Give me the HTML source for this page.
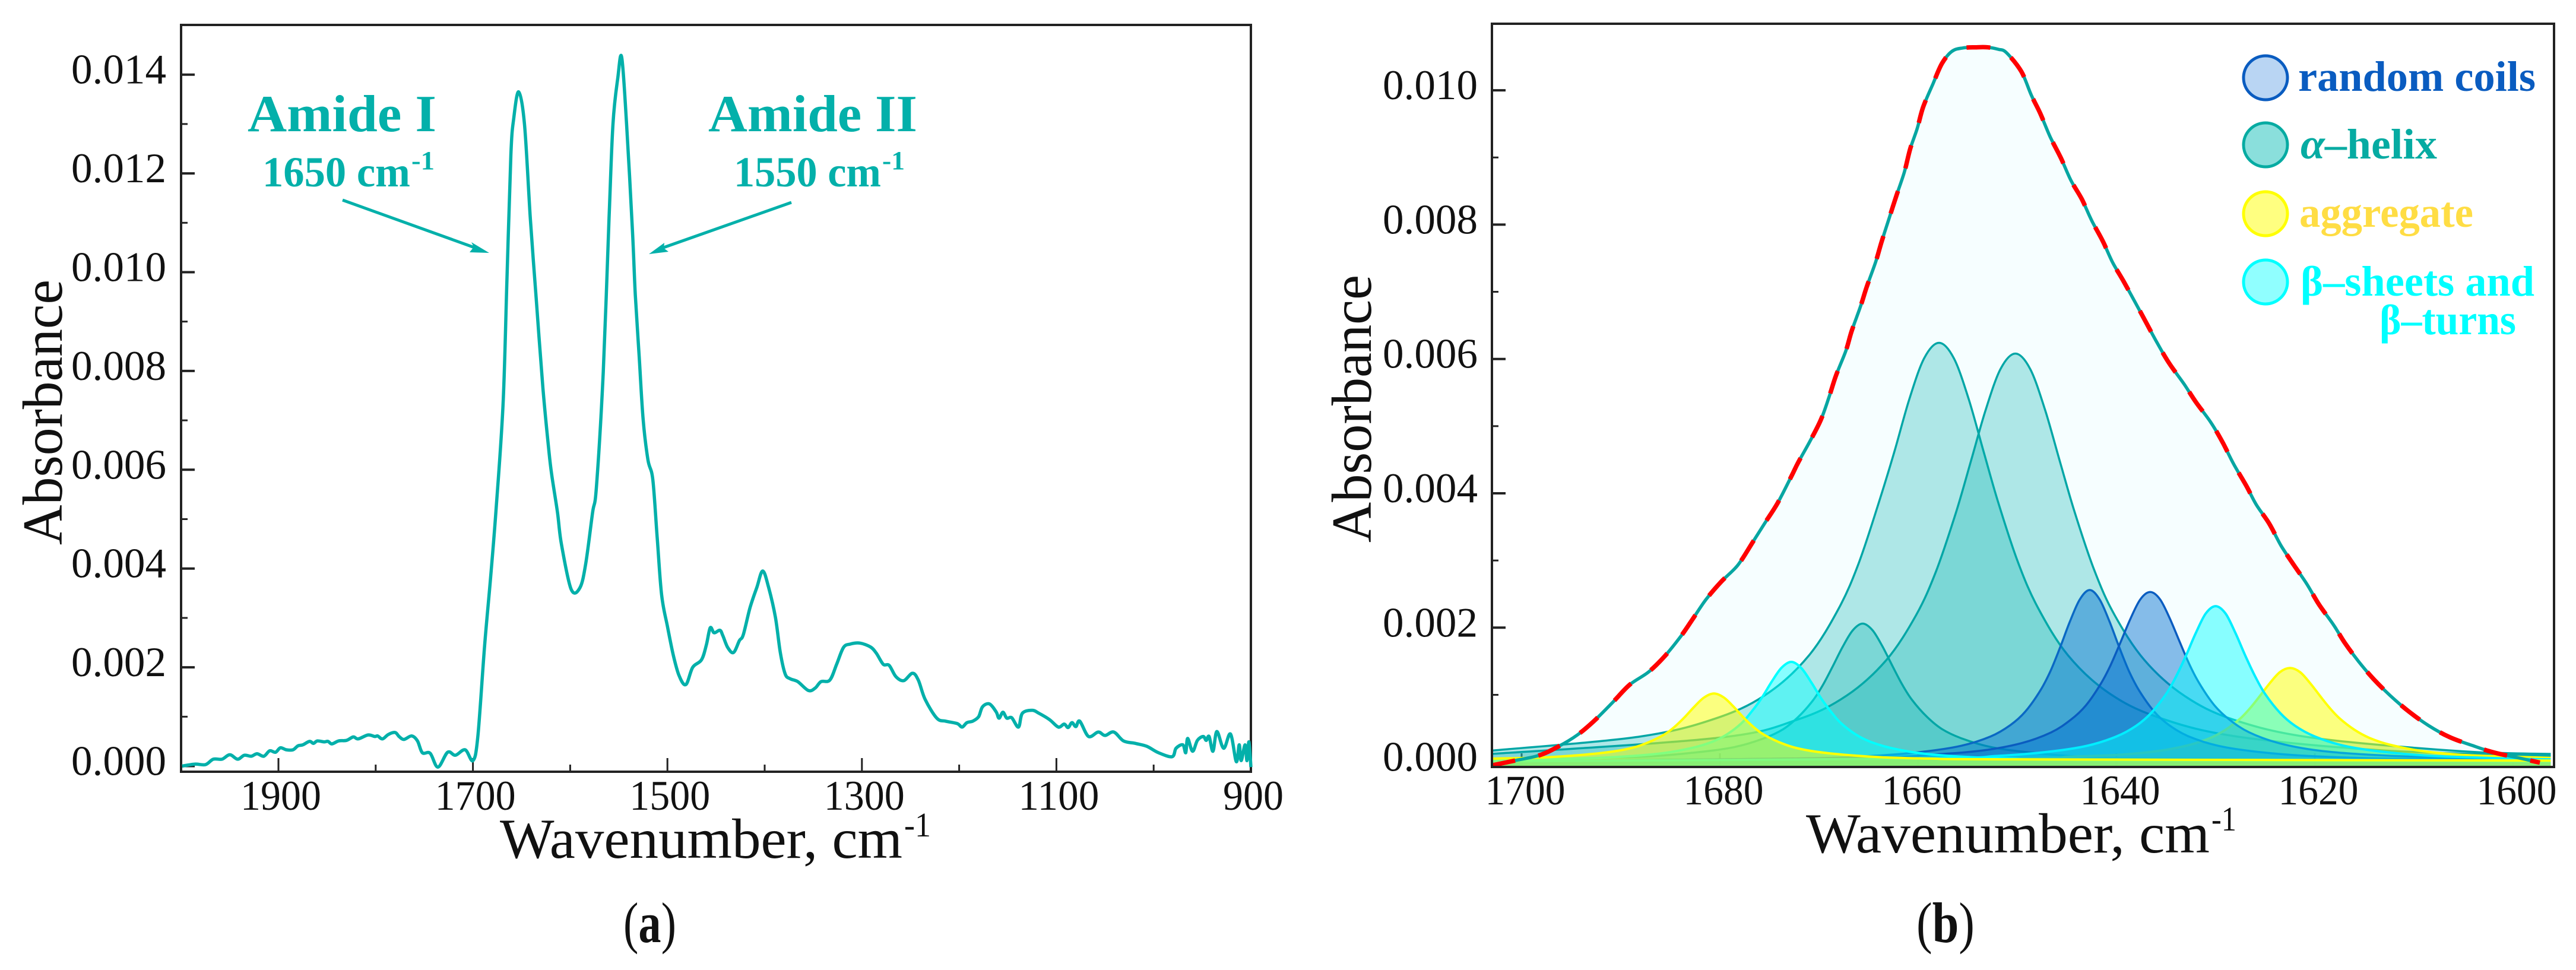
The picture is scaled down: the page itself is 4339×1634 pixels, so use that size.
<!DOCTYPE html>
<html lang="en">
<head>
<meta charset="utf-8">
<title>FTIR absorbance spectra</title>
<style>
html,body{margin:0;padding:0;background:#fff;}
svg{display:block;}
text{font-family:"Liberation Serif","DejaVu Serif",serif;fill:#111;}
.tick-label{font-size:71px;}
.axis-title{font-size:95px;}
.annot{fill:#03b0aa;font-weight:bold;}
.legend{font-size:72px;font-weight:bold;}
</style>
</head>
<body>
<svg id="figure" xmlns="http://www.w3.org/2000/svg" width="4339" height="1634" viewBox="0 0 4339 1634">
  <rect x="0" y="0" width="4339" height="1634" fill="#fff"/>
  <g id="panelA"></g>
  <g id="panelB"></g>

  <!-- Panel A text -->
  <text class="axis-title" transform="translate(104,918) rotate(-90)" textLength="447" lengthAdjust="spacingAndGlyphs">Absorbance</text>
  <text class="axis-title" x="842" y="1445" textLength="678" lengthAdjust="spacingAndGlyphs">Wavenumber, cm</text>
  <text style="font-size:58px" x="1523" y="1409" textLength="45" lengthAdjust="spacingAndGlyphs">-1</text>
  <text class="annot" style="font-size:88px" x="417" y="221" textLength="318" lengthAdjust="spacingAndGlyphs">Amide I</text>
  <text class="annot" style="font-size:72px" x="442" y="314" textLength="249" lengthAdjust="spacingAndGlyphs">1650 cm</text>
  <text class="annot" style="font-size:44px" x="693" y="285" textLength="39" lengthAdjust="spacingAndGlyphs">-1</text>
  <text class="annot" style="font-size:88px" x="1193" y="221" textLength="352" lengthAdjust="spacingAndGlyphs">Amide II</text>
  <text class="annot" style="font-size:72px" x="1236" y="314" textLength="248" lengthAdjust="spacingAndGlyphs">1550 cm</text>
  <text class="annot" style="font-size:44px" x="1486" y="285" textLength="38" lengthAdjust="spacingAndGlyphs">-1</text>
  <g>
    <line x1="577" y1="337" x2="802" y2="418" stroke="#03b0aa" stroke-width="5"/>
    <polygon points="824,426 791,425 798,416 794,408" fill="#03b0aa"/>
  </g>
  <g>
    <line x1="1333" y1="341" x2="1112" y2="419" stroke="#03b0aa" stroke-width="5"/>
    <polygon points="1093,428 1119,409 1118,418 1126,424" fill="#03b0aa"/>
  </g>
  <text style="font-size:96px" x="1050" y="1587" textLength="89" lengthAdjust="spacingAndGlyphs">(<tspan font-weight="bold">a</tspan>)</text>

  <!-- Panel B text -->
  <text class="axis-title" transform="translate(2309,914) rotate(-90)" textLength="451" lengthAdjust="spacingAndGlyphs">Absorbance</text>
  <text class="axis-title" x="3042" y="1436" textLength="680" lengthAdjust="spacingAndGlyphs">Wavenumber, cm</text>
  <text style="font-size:58px" x="3725" y="1399" textLength="42" lengthAdjust="spacingAndGlyphs">-1</text>
  <text style="font-size:96px" x="3228" y="1587" textLength="98" lengthAdjust="spacingAndGlyphs">(<tspan font-weight="bold">b</tspan>)</text>

  <!-- Legend -->
  <g>
    <g>
      <circle cx="3816" cy="131" r="37" fill="#b9d5f3" stroke="#0a5cc0" stroke-width="5"/>
      <text class="legend" style="fill:#0a5cc0" x="3871" y="153" textLength="400" lengthAdjust="spacingAndGlyphs">random coils</text>
    </g>
    <g>
      <circle cx="3816" cy="244" r="37" fill="#8adfdc" stroke="#06aba2" stroke-width="5"/>
      <text class="legend" style="fill:#06aba2" x="3875" y="267" textLength="230" lengthAdjust="spacingAndGlyphs"><tspan font-style="italic">α</tspan>–helix</text>
    </g>
    <g>
      <circle cx="3816" cy="360" r="37" fill="#ffff80" stroke="#ffff00" stroke-width="5"/>
      <text class="legend" style="fill:#ffdd44" x="3873" y="382" textLength="293" lengthAdjust="spacingAndGlyphs">aggregate</text>
    </g>
    <g>
      <circle cx="3816" cy="475" r="37" fill="#90ffff" stroke="#00ffff" stroke-width="5"/>
      <text class="legend" style="fill:#00ffff" x="3875" y="498" textLength="394" lengthAdjust="spacingAndGlyphs">β–sheets and</text>
      <text class="legend" style="fill:#00ffff" x="4008" y="563" textLength="230" lengthAdjust="spacingAndGlyphs">β–turns</text>
    </g>
  </g>
</svg>

<script>
/* ---------- Panel A data ---------- */
const spectrumWavenumbers = [1999,1986,1975,1967,1958,1950,1942,1935,1928,1922,1915,1909,1903,1898,1892,1885,1880,1875,1868,1864,1860,1853,1849,1845,1838,1830,1823,1818,1808,1801,1798,1793,1787,1780,1776,1771,1763,1757,1752,1744,1736,1726,1718,1708,1700,1695,1688,1682,1676,1669,1665,1661,1658,1653,1647,1641,1635,1628,1622,1619,1613,1609,1599,1590,1584,1577,1573,1566,1560,1556,1551,1547,1542,1536,1533,1529,1525,1520,1515,1510.5,1506,1500,1494,1488,1481,1474,1465,1460,1456,1452,1446,1443,1438,1432,1426,1422,1415,1408,1402,1396,1389,1384,1379,1374,1366,1355,1348,1342,1333,1326,1319,1312,1302,1291,1285,1278,1272,1265,1257,1248,1242,1235,1223,1214,1202,1197,1192,1186,1180,1176,1169,1162,1159,1155,1151,1146,1139,1135,1125,1118,1107,1098,1092,1088,1084,1080,1076,1067,1057,1050,1041,1031,1019,1007,995,981,977,970,967,965,960,955,949,946,943,939,935,928,921,915,912,910,906,904,902,900];
const spectrumAbsorbance = [0,0.00004,0.00003,0.00014,0.00014,0.00023,0.00014,0.00022,0.0002,0.00025,0.0002,0.00031,0.00028,0.00037,0.00033,0.00033,0.00041,0.00043,0.0005,0.00046,0.00051,0.00049,0.0005,0.00045,0.00051,0.00052,0.00059,0.00055,0.00063,0.0006,0.00061,0.00055,0.00064,0.00068,0.0006,0.00054,0.00061,0.00051,0.00027,0.00026,-0.00002,0.00028,0.00022,0.00033,0.00011,0.00059,0.00244,0.00378,0.00525,0.00734,0.00985,0.01237,0.01312,0.01365,0.013,0.0111,0.00948,0.00765,0.0064,0.0059,0.00513,0.00449,0.00358,0.00361,0.0041,0.00513,0.00565,0.00797,0.0111,0.013,0.01394,0.01435,0.013,0.01086,0.00954,0.00828,0.00702,0.0062,0.0058,0.00462,0.00347,0.00283,0.00225,0.00183,0.00165,0.002,0.00215,0.00245,0.0028,0.0027,0.00275,0.00264,0.0024,0.0023,0.00254,0.00266,0.00321,0.00362,0.00395,0.00362,0.00302,0.00231,0.00187,0.00177,0.00171,0.00153,0.00158,0.00171,0.00174,0.00206,0.0024,0.00247,0.00249,0.00241,0.00228,0.00206,0.00204,0.00181,0.00173,0.00188,0.00174,0.00135,0.00097,0.00091,0.00086,0.00079,0.00088,0.00091,0.001,0.0012,0.00126,0.0011,0.00097,0.00109,0.00097,0.00098,0.00079,0.00107,0.00113,0.00107,0.00094,0.00079,0.00085,0.00078,0.00088,0.0008,0.00091,0.0006,0.00069,0.00062,0.00069,0.00051,0.00046,0.0004,0.00027,0.00019,0.00036,0.00043,0.00027,0.00056,0.0003,0.00052,0.0006,0.00052,0.0006,0.0003,0.0007,0.00036,0.00065,0.00009,0.00043,0.00011,0.00043,0.00011,0.00049,-0.00002];
const panelAXMajorTicks = [1900,1700,1500,1300,1100,900];
const panelAXMinorTicks = [1800,1600,1400,1200,1000];
const panelAYMajorTicks = [0,0.002,0.004,0.006,0.008,0.01,0.012,0.014];
const panelAYMinorTicks = [0.001,0.003,0.005,0.007,0.009,0.011,0.013];
const panelAYLabels = ["0.000","0.002","0.004","0.006","0.008","0.010","0.012","0.014"];
const panelAXLabels = ["1900","1700","1500","1300","1100","900"];

/* ---------- Panel B data ---------- */
const envelopeWavenumbers = [1703,1700.7,1698.2,1696.3,1694.4,1692.7,1690.8,1689.1,1687.2,1685.6,1683.9,1682.6,1681.4,1679.9,1678.2,1676.7,1675.5,1674.2,1672.8,1672.1,1670.9,1669.8,1669,1668.3,1667.3,1666.7,1665.8,1665.2,1664.3,1663.7,1662.9,1662.2,1661.4,1660.8,1660.1,1659.5,1658.5,1657.6,1656.6,1655.5,1654.2,1653,1651.9,1651.1,1649.6,1648.6,1647.7,1646.7,1645.6,1644.6,1643.5,1642.5,1641.4,1640.4,1639.3,1638.1,1637,1635.9,1634.7,1633.2,1632,1630.5,1629.3,1628.2,1626.9,1625.9,1624.6,1623.4,1622.1,1620.8,1619.6,1618.1,1617,1615.6,1614.1,1612.4,1610.5,1608.5,1606.4,1604,1601.9,1599.4,1597.3];
const envelopeAbsorbance = [-0.00005,0.00002,0.0001,0.00023,0.0004,0.00061,0.00089,0.00115,0.00134,0.00157,0.00188,0.00216,0.00242,0.00268,0.00293,0.00327,0.00355,0.00385,0.00425,0.00446,0.00478,0.0051,0.00543,0.00575,0.00612,0.00642,0.00679,0.00707,0.00744,0.00774,0.00811,0.00843,0.00878,0.00913,0.00943,0.00975,0.0101,0.0104,0.01058,0.01063,0.01064,0.01064,0.01061,0.01056,0.01028,0.00993,0.00966,0.00931,0.00899,0.00866,0.00838,0.00806,0.00776,0.00744,0.00716,0.00684,0.00654,0.00624,0.00594,0.00563,0.00536,0.00506,0.00476,0.00444,0.00411,0.00383,0.00355,0.00322,0.00293,0.00265,0.00235,0.00204,0.00178,0.0015,0.00124,0.00099,0.00075,0.00054,0.00037,0.00024,0.00014,0.00006,-0.00001];

const helixAWavenumbers = [1703,1688,1680,1675,1671,1668,1666,1664,1662.4,1660.9,1659.4,1657.9,1656.4,1654.9,1653.4,1651.9,1649.9,1647.9,1644.9,1640.9,1635.9,1627.9,1612.9,1596.2];
const helixAAbsorbance = [0.00017,0.00038,0.00067,0.00104,0.00159,0.00229,0.00296,0.00385,0.00462,0.0054,0.00601,0.00624,0.00601,0.0054,0.00462,0.00385,0.00296,0.00229,0.00159,0.00104,0.00067,0.00038,0.00017,0.00009];
const helixBWavenumbers = [1703,1680.2,1672.2,1667.2,1663.2,1660.2,1658.2,1656.2,1654.7,1653.2,1651.7,1650.2,1648.7,1647.2,1645.7,1644.2,1642.2,1640.2,1637.2,1633.2,1628.2,1620.2,1605.2,1596.2];
const helixBAbsorbance = [0.00012,0.00036,0.00063,0.00099,0.00152,0.00219,0.00284,0.00371,0.00447,0.00524,0.00585,0.00608,0.00585,0.00524,0.00447,0.00371,0.00284,0.00219,0.00152,0.00099,0.00063,0.00036,0.00016,0.00012];
const helixCWavenumbers = [1703,1695.6,1687.6,1682.6,1678.6,1675.6,1673.6,1672.1,1670.6,1669.6,1668.6,1667.6,1666.6,1665.6,1664.6,1663.6,1662.6,1661.6,1660.6,1659.1,1657.6,1655.6,1652.6,1648.6,1643.6,1635.6,1596.2];
const helixCAbsorbance = [0.00003,0.00005,0.00008,0.00014,0.00022,0.00035,0.00049,0.00067,0.00092,0.00115,0.00143,0.00172,0.00196,0.00206,0.00196,0.00172,0.00143,0.00115,0.00092,0.00067,0.00049,0.00035,0.00022,0.00014,0.00008,0.00005,0.00001];
const coilAWavenumbers = [1703,1672.7,1664.7,1659.7,1655.7,1652.7,1650.7,1649.2,1647.7,1646.7,1645.7,1644.7,1643.7,1642.7,1641.7,1640.7,1639.7,1638.7,1637.7,1636.2,1634.7,1632.7,1629.7,1625.7,1620.7,1612.7,1596.2];
const coilAAbsorbance = [0.00001,0.00005,0.00009,0.00015,0.00024,0.00038,0.00055,0.00075,0.00106,0.00134,0.0017,0.00209,0.00242,0.00256,0.00242,0.00209,0.0017,0.00134,0.00106,0.00075,0.00055,0.00038,0.00024,0.00015,0.00009,0.00005,0.00002];
const coilBWavenumbers = [1703,1666.6,1658.6,1653.6,1649.6,1646.6,1644.6,1643.1,1641.6,1640.6,1639.6,1638.6,1637.6,1636.6,1635.6,1634.6,1633.6,1632.6,1631.6,1630.1,1628.6,1626.6,1623.6,1619.6,1614.6,1606.6,1596.2];
const coilBAbsorbance = [0.00001,0.00006,0.00011,0.00017,0.00028,0.00044,0.00063,0.00084,0.00116,0.00144,0.00178,0.00213,0.00242,0.00253,0.00242,0.00213,0.00178,0.00144,0.00116,0.00084,0.00063,0.00044,0.00028,0.00017,0.00011,0.00006,0.00003];
const sheetAWavenumbers = [1703,1694.8,1689.8,1685.8,1682.8,1680.8,1679.3,1677.8,1676.8,1675.8,1674.8,1673.8,1672.8,1671.8,1670.8,1669.8,1668.8,1667.8,1666.3,1664.8,1662.8,1659.8,1655.8,1650.8,1642.8,1596.2];
const sheetAAbsorbance = [0.00003,0.00005,0.00008,0.00013,0.00021,0.0003,0.00041,0.00058,0.00075,0.00095,0.00119,0.0014,0.00149,0.0014,0.00119,0.00095,0.00075,0.00058,0.00041,0.0003,0.00021,0.00013,0.00008,0.00005,0.00003,0.00001];
const sheetBWavenumbers = [1703,1660,1652,1647,1643,1640,1638,1636.5,1635,1634,1633,1632,1631,1630,1629,1628,1627,1626,1625,1623.5,1622,1620,1617,1613,1608,1600,1596.2];
const sheetBAbsorbance = [0.00001,0.00005,0.00009,0.00015,0.00024,0.00038,0.00054,0.00073,0.00101,0.00127,0.00158,0.00192,0.00221,0.00232,0.00221,0.00192,0.00158,0.00127,0.00101,0.00073,0.00054,0.00038,0.00024,0.00015,0.00009,0.00005,0.00004];
const aggregateAWavenumbers = [1703,1697.6,1693.6,1690.6,1688.6,1687.1,1685.6,1684.6,1683.6,1682.6,1681.6,1680.6,1679.6,1678.6,1677.6,1676.6,1675.6,1674.1,1672.6,1670.6,1667.6,1663.6,1658.6,1650.6,1596.2];
const aggregateAAbsorbance = [0.00005,0.00007,0.00011,0.00016,0.00022,0.0003,0.00041,0.00052,0.00066,0.00082,0.00096,0.00102,0.00096,0.00082,0.00066,0.00052,0.00041,0.0003,0.00022,0.00016,0.00011,0.00007,0.00005,0.00004,0.00002];
const aggregateBWavenumbers = [1703,1652.5,1644.5,1639.5,1635.5,1632.5,1630.5,1629,1627.5,1626.5,1625.5,1624.5,1623.5,1622.5,1621.5,1620.5,1619.5,1618.5,1617.5,1616,1614.5,1612.5,1609.5,1605.5,1600.5,1596.2];
const aggregateBAbsorbance = [0.00002,0.00005,0.00008,0.00011,0.00017,0.00026,0.00036,0.00048,0.00065,0.000805,0.00099,0.00118,0.00134,0.0014,0.00134,0.00118,0.00099,0.000805,0.00065,0.00048,0.00036,0.00026,0.00017,0.00011,0.00008,0.00006];

const panelBXMajorTicks = [1700,1680,1660,1640,1620,1600];
const panelBXLabels = ["1700","1680","1660","1640","1620","1600"];
const panelBYMajorTicks = [0,0.002,0.004,0.006,0.008,0.01];
const panelBYMinorTicks = [0.001,0.003,0.005,0.007,0.009];
const panelBYLabels = ["0.000","0.002","0.004","0.006","0.008","0.010"];

/* ---------- Axis functions ---------- */
const xA = function (w) { return 2107 - (w - 900) * 1.638; };
const yA = function (v) { return 1290.5 - v * 83200; };
const xB = function (w) { return 2563 + (1700 - w) * 16.7; };
const yB = function (v) { return 1283.6 - v * 113150; };
const boxA = { left: 305, top: 42, right: 2107, bottom: 1300 };
const boxB = { left: 2513, top: 40, right: 4302, bottom: 1292 };

const SVG_NS = "http://www.w3.org/2000/svg";
function svgEl(tag, parent) {
  const el = document.createElementNS(SVG_NS, tag);
  parent.appendChild(el);
  return el;
}
function setAll(el, attrs) {
  Object.keys(attrs).forEach(function (k) { el.setAttribute(k, attrs[k]); });
}
function toPoints(ws, vs, xf, yf) {
  return ws.map(function (w, i) { return [xf(w), yf(vs[i])]; });
}
function smoothPath(pts) {
  let d = "M" + pts[0][0].toFixed(1) + " " + pts[0][1].toFixed(1);
  for (let i = 0; i < pts.length - 1; i++) {
    const p0 = pts[Math.max(i - 1, 0)], p1 = pts[i], p2 = pts[i + 1], p3 = pts[Math.min(i + 2, pts.length - 1)];
    const c1x = p1[0] + (p2[0] - p0[0]) / 6, c1y = p1[1] + (p2[1] - p0[1]) / 6;
    const c2x = p2[0] - (p3[0] - p1[0]) / 6, c2y = p2[1] - (p3[1] - p1[1]) / 6;
    d += "C" + c1x.toFixed(1) + " " + c1y.toFixed(1) + " " + c2x.toFixed(1) + " " + c2y.toFixed(1) + " " + p2[0].toFixed(1) + " " + p2[1].toFixed(1);
  }
  return d;
}
function drawYTicks(group, box, yf, majors, minors, labels, labelRight, labelWidth) {
  majors.forEach(function (v, i) {
    const t = svgEl("line", group);
    
    
    setAll(t, { x1: box.left, x2: box.left + 23, y1: yf(v), y2: yf(v), stroke: "#222", "stroke-width": 4 });
    const l = svgEl("text", group);
    
    
    setAll(l, { class: "tick-label", x: labelRight, y: yf(v) + 15, "text-anchor": "end", textLength: labelWidth, lengthAdjust: "spacingAndGlyphs" });
    l.textContent = labels[i];
  });
  minors.forEach(function (v) {
    const t = svgEl("line", group);
    
    
    setAll(t, { x1: box.left, x2: box.left + 11, y1: yf(v), y2: yf(v), stroke: "#222", "stroke-width": 3 });
  });
}
function drawFrame(group, box) {
  const r = svgEl("rect", group);
  
  
  setAll(r, { x: box.left, y: box.top, width: box.right - box.left, height: box.bottom - box.top, fill: "none", stroke: "#222", "stroke-width": 4 });
}

/* ---------- Panel A ---------- */
const panelA = document.getElementById("panelA");
drawYTicks(panelA, boxA, yA, panelAYMajorTicks, panelAYMinorTicks, panelAYLabels, 280, 160);
panelAXMajorTicks.forEach(function (w, i) {
  const t = svgEl("line", panelA);
  
  
  setAll(t, { x1: xA(w), x2: xA(w), y1: boxA.bottom, y2: boxA.bottom - 23, stroke: "#222", "stroke-width": 3 });
  const l = svgEl("text", panelA);
  
  
  setAll(l, { class: "tick-label", x: xA(w) + 4, y: 1364, "text-anchor": "middle", textLength: panelAXLabels[i].length * 34, lengthAdjust: "spacingAndGlyphs" });
  l.textContent = panelAXLabels[i];
});
panelAXMinorTicks.forEach(function (w) {
  const t = svgEl("line", panelA);
  
  
  setAll(t, { x1: xA(w), x2: xA(w), y1: boxA.bottom, y2: boxA.bottom - 12, stroke: "#222", "stroke-width": 3 });
});
drawFrame(panelA, boxA);
const spectrumLine = svgEl("path", panelA);


setAll(spectrumLine, { d: smoothPath(toPoints(spectrumWavenumbers, spectrumAbsorbance, xA, yA)), fill: "none", stroke: "#03b0aa", "stroke-width": 5.5, "stroke-linejoin": "round" });

/* ---------- Panel B ---------- */
const panelB = document.getElementById("panelB");
drawYTicks(panelB, boxB, yB, panelBYMajorTicks, panelBYMinorTicks, panelBYLabels, 2489, 160);
panelBXMajorTicks.forEach(function (w, i) {
  const t = svgEl("line", panelB);
  
  
  setAll(t, { x1: xB(w), x2: xB(w), y1: boxB.bottom, y2: boxB.bottom - 23, stroke: "#444", "stroke-width": 3 });
  const l = svgEl("text", panelB);
  
  
  setAll(l, { class: "tick-label", x: xB(w) + 6, y: 1355, "text-anchor": "middle", textLength: 135, lengthAdjust: "spacingAndGlyphs" });
  l.textContent = panelBXLabels[i];
});

function drawComponent(name, ws, vs, fill, opacity, stroke, width) {
  const pts = toPoints(ws, vs, xB, yB);
  const line = smoothPath(pts);
  const last = pts[pts.length - 1], first = pts[0];
  const area = svgEl("path", panelB);
  
  
  setAll(area, { d: line + "L" + last[0].toFixed(1) + " " + boxB.bottom + "L" + first[0].toFixed(1) + " " + boxB.bottom + "Z", fill: fill, "fill-opacity": opacity, stroke: "none" });
  const curve = svgEl("path", panelB);
  
  
  setAll(curve, { d: line, fill: "none", stroke: stroke, "stroke-width": width });
}

drawComponent("envelope", envelopeWavenumbers, envelopeAbsorbance, "#e8fdff", 0.4, "none", 0);
drawComponent("alpha-helix-peak-1658", helixAWavenumbers, helixAAbsorbance, "#00b0ac", 0.29, "#02a6a6", 3.5);
drawComponent("alpha-helix-peak-1650", helixBWavenumbers, helixBAbsorbance, "#00b0ac", 0.29, "#02a6a6", 3.5);
drawComponent("alpha-helix-peak-1666", helixCWavenumbers, helixCAbsorbance, "#00b0ac", 0.29, "#02a6a6", 3.5);
drawComponent("aggregate-peak-1622", aggregateBWavenumbers, aggregateBAbsorbance, "#ffff00", 0.5, "#ffff00", 4);
drawComponent("random-coils-peak-1643", coilAWavenumbers, coilAAbsorbance, "#0070d0", 0.46, "#0a68c4", 3.5);
drawComponent("random-coils-peak-1637", coilBWavenumbers, coilBAbsorbance, "#0070d0", 0.46, "#0a5cc0", 3.5);
drawComponent("beta-sheets-peak-1630", sheetBWavenumbers, sheetBAbsorbance, "#00ffff", 0.45, "#00eeff", 4);
drawComponent("beta-sheets-peak-1673", sheetAWavenumbers, sheetAAbsorbance, "#00ffff", 0.45, "#00ffff", 4);
drawComponent("aggregate-peak-1681", aggregateAWavenumbers, aggregateAAbsorbance, "#ffff00", 0.5, "#ffff00", 4);

const envelopeD = smoothPath(toPoints(envelopeWavenumbers, envelopeAbsorbance, xB, yB));
const measuredLine = svgEl("path", panelB);


setAll(measuredLine, { d: envelopeD, fill: "none", stroke: "#07a6a2", "stroke-width": 5.5 });
const fitLine = svgEl("path", panelB);


setAll(fitLine, { d: envelopeD, fill: "none", stroke: "#ff0000", "stroke-width": 7.5, "stroke-dasharray": "40 40" });
drawFrame(panelB, boxB);
</script>
</body>
</html>
